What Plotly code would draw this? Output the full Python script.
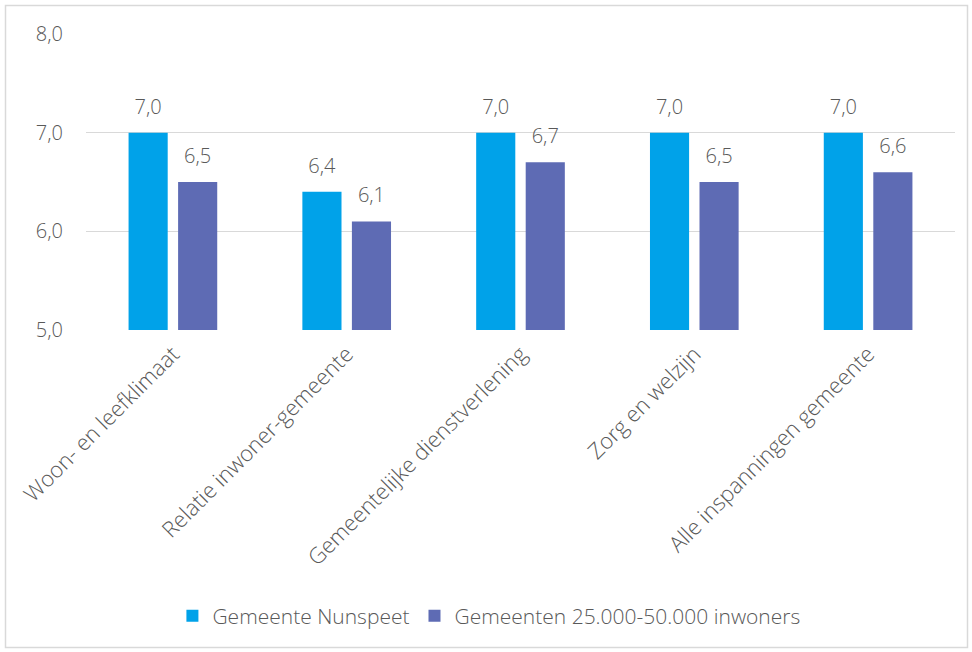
import plotly.graph_objects as go

categories = ["Woon- en leefklimaat", "Relatie inwoner-gemeente", "Gemeentelijke dienstverlening",
              "Zorg en welzijn", "Alle inspanningen gemeente"]
nunspeet = [7.0, 6.4, 7.0, 7.0, 7.0]
vergelijk = [6.5, 6.1, 6.7, 6.5, 6.6]
series_names = ["Gemeente Nunspeet", "Gemeenten 25.000-50.000 inwoners"]
colors = ["#00A2E9", "#5E6BB4"]

FONT = "Open Sans"
GRAY = "#595959"
BARGAP = 0.43

fig = go.Figure()
for i, (name, vals, col) in enumerate(zip(series_names, [nunspeet, vergelijk], colors)):
    fig.add_trace(go.Bar(
        x=categories, y=vals, name=name, marker=dict(color=col, line=dict(width=0)),
        offsetgroup=str(i), alignmentgroup="a",
    ))
for i, vals in enumerate([nunspeet, vergelijk]):
    fig.add_trace(go.Scatter(
        x=categories, y=vals, mode="markers+text", showlegend=False, hoverinfo="skip",
        marker=dict(size=21, opacity=0), offsetgroup=str(i), alignmentgroup="a",
        texttemplate="%{y:.1f}", textposition="top center", cliponaxis=False,
        textfont=dict(family=FONT, size=20, color=GRAY, weight=300),
    ))

W, H = 972, 652
L, R, T, B = 86, 17, 34, 322
pw, ph = W - L - R, H - T - B

def px_to_paper_x(x):
    return (x - L) / pw

def px_to_paper_y(y):
    return (H - B - y) / ph

fig.add_shape(type="rect", xref="paper", yref="paper",
              x0=px_to_paper_x(5.5), x1=px_to_paper_x(967.5),
              y0=px_to_paper_y(647.5), y1=px_to_paper_y(5.5),
              line=dict(color="#D9D9D9", width=1.5), fillcolor="rgba(0,0,0,0)", layer="below")

fig.update_layout(
    width=W, height=H,
    margin=dict(l=L, r=R, t=T, b=B),
    paper_bgcolor="white", plot_bgcolor="white",
    separators=",.",
    barmode="group", bargap=BARGAP, bargroupgap=0.21,
    scattermode="group", scattergap=BARGAP,
    font=dict(family=FONT, size=20, color=GRAY, weight=300),
    showlegend=True,
    legend=dict(orientation="h", xref="container", yref="container", x=0.503, y=0.055,
                xanchor="center", yanchor="middle",
                font=dict(family=FONT, size=21, color=GRAY, weight=300),
                itemwidth=30, tracegroupgap=0),
    xaxis=dict(tickangle=-45, showgrid=False, showline=False, ticks="", ticklabelstandoff=6,
               tickfont=dict(family=FONT, size=22, color=GRAY, weight=300)),
    yaxis=dict(range=[5, 8], dtick=1, tickformat=".1f", showgrid=True, gridcolor="#D9D9D9",
               gridwidth=1.3, zeroline=False, showline=False, ticks="", ticklabelstandoff=22,
               tickfont=dict(family=FONT, size=20, color=GRAY, weight=300)),
)

fig.write_html("out.html")
